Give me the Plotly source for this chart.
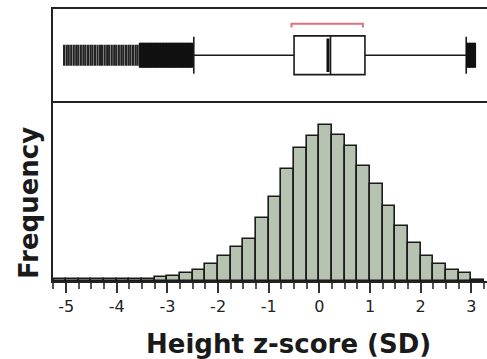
import plotly.graph_objects as go

# Histogram data: bin left edges (z-score SD) and frequencies (relative units)
bin_left = [-5.25, -5.0, -4.75, -4.5, -4.25, -4.0, -3.75, -3.5, -3.25, -3.0,
            -2.75, -2.5, -2.25, -2.0, -1.75, -1.5, -1.25, -1.0, -0.75, -0.5,
            -0.25, 0.0, 0.25, 0.5, 0.75, 1.0, 1.25, 1.5, 1.75, 2.0,
            2.25, 2.5, 2.75, 3.0]
frequency = [1.5, 1.5, 1.5, 1.5, 1.5, 2, 2, 2, 4, 5,
             8, 11, 17, 25, 34, 42, 63, 84, 112, 133,
             145, 156, 146, 135, 115, 97, 75, 55, 38, 25,
             17, 11, 8, 1]
bin_width = 0.25

# Box plot summary
q1 = -0.50
median = 0.22
q3 = 0.90
mean_val = 0.17
lower_whisker = -2.48
upper_whisker = 2.90
outliers_sparse = [-5.04, -4.99, -4.95, -4.90, -4.85, -4.80, -4.76, -4.71, -4.66, -4.62,
                   -4.57, -4.52, -4.48, -4.43, -4.38, -4.33, -4.29, -4.24, -4.19, -4.15,
                   -4.10, -4.05, -4.01, -3.96, -3.91, -3.87, -3.82, -3.77, -3.73, -3.68,
                   -3.63, -3.59]
outliers_dense = [-3.54, -3.51, -3.48, -3.45, -3.42, -3.39, -3.36, -3.33, -3.30, -3.27,
                  -3.24, -3.21, -3.18, -3.15, -3.12, -3.09, -3.06, -3.03, -3.00, -2.97,
                  -2.94, -2.91, -2.88, -2.85, -2.82, -2.79, -2.76, -2.73, -2.70, -2.67,
                  -2.64, -2.61, -2.58, -2.55, -2.52,
                  2.92, 2.95, 2.98, 3.01, 3.04, 3.07]
bracket_range = [-0.55, 0.86]

tick_vals = [-5, -4, -3, -2, -1, 0, 1, 2, 3]
tick_text = ["-5", "-4", "-3", "-2", "-1", "0", "1", "2", "3"]

x_range = [-5.26, 3.31]
line_col = "#222222"

centers = [b + bin_width / 2 for b in bin_left]

fig = go.Figure()

fig.add_trace(go.Bar(
    x=centers, y=frequency, width=bin_width,
    marker=dict(color="#b6c3b1", line=dict(color="#1a1a1a", width=1.6)),
    xaxis="x", yaxis="y", showlegend=False,
))

# box plot (top panel)
fig.add_trace(go.Box(
    y=[0.5], q1=[q1], median=[median], q3=[q3],
    lowerfence=[lower_whisker], upperfence=[upper_whisker],
    orientation="h", width=0.42, whiskerwidth=0.95,
    fillcolor="white", line=dict(color="#1a1a1a", width=1.6),
    boxpoints=False, xaxis="x2", yaxis="y2", showlegend=False,
))
fig.add_trace(go.Scatter(
    x=[mean_val], y=[0.5], mode="markers",
    marker=dict(symbol="line-ns", size=24, line=dict(color="#111111", width=3)),
    xaxis="x2", yaxis="y2", showlegend=False, hoverinfo="skip",
))
fig.add_trace(go.Scatter(
    x=outliers_sparse, y=[0.5] * len(outliers_sparse),
    mode="markers",
    marker=dict(symbol="line-ns", size=15, line=dict(color="#222222", width=2.2)),
    xaxis="x2", yaxis="y2", showlegend=False, hoverinfo="skip",
))
fig.add_trace(go.Scatter(
    x=outliers_dense, y=[0.5] * len(outliers_dense),
    mode="markers",
    marker=dict(symbol="line-ns", size=18, line=dict(color="#111111", width=2.5)),
    xaxis="x2", yaxis="y2", showlegend=False, hoverinfo="skip",
))
fig.add_trace(go.Scatter(
    x=[bracket_range[0], bracket_range[0], bracket_range[1], bracket_range[1]],
    y=[0.80, 0.84, 0.84, 0.80], mode="lines",
    line=dict(color="#e0707e", width=2),
    xaxis="x2", yaxis="y2", showlegend=False, hoverinfo="skip",
))

fig.update_layout(
    width=487, height=359,
    margin=dict(l=0, r=0, t=0, b=0),
    paper_bgcolor="white", plot_bgcolor="white",
    bargap=0,
    font=dict(family="DejaVu Sans, Arial, sans-serif", color="#222222"),
    xaxis=dict(
        domain=[0.1088, 1.0], range=x_range, anchor="y",
        showline=True, linecolor=line_col, linewidth=2, mirror=True,
        showgrid=False, zeroline=False,
        tickmode="array", tickvals=tick_vals, ticktext=tick_text,
        ticks="outside", ticklen=10, tickwidth=2, tickcolor="#333333",
        tickfont=dict(size=16, color="#222222"),
        minor=dict(dtick=0.25, tick0=0, ticks="outside", ticklen=6,
                   tickwidth=1.5, tickcolor="#555555", showgrid=False),
    ),
    yaxis=dict(
        domain=[0.2173, 0.7131], range=[0, 178], anchor="x",
        showline=True, linecolor=line_col, linewidth=2,
        showgrid=False, zeroline=False, showticklabels=False, ticks="",
    ),
    xaxis2=dict(
        domain=[0.1088, 1.0], range=x_range, anchor="y2",
        showline=True, linecolor=line_col, linewidth=2, mirror=True,
        showgrid=False, zeroline=False, showticklabels=False, ticks="",
    ),
    yaxis2=dict(
        domain=[0.7173, 0.9749], range=[0, 1], anchor="x2",
        showline=True, linecolor=line_col, linewidth=2,
        showgrid=False, zeroline=False, showticklabels=False, ticks="",
    ),
    annotations=[
        dict(text="<b>Height z-score (SD)</b>", xref="paper", yref="paper",
             x=288 / 487, y=(359 - 344) / 359, xanchor="center", yanchor="middle",
             showarrow=False, font=dict(size=26, color="#1a1a1a")),
        dict(text="<b>Frequency</b>", xref="paper", yref="paper",
             x=29 / 487, y=(359 - 203) / 359, xanchor="center", yanchor="middle",
             textangle=-90, showarrow=False, font=dict(size=26, color="#1a1a1a")),
    ],
)

fig.write_html("out.html")
